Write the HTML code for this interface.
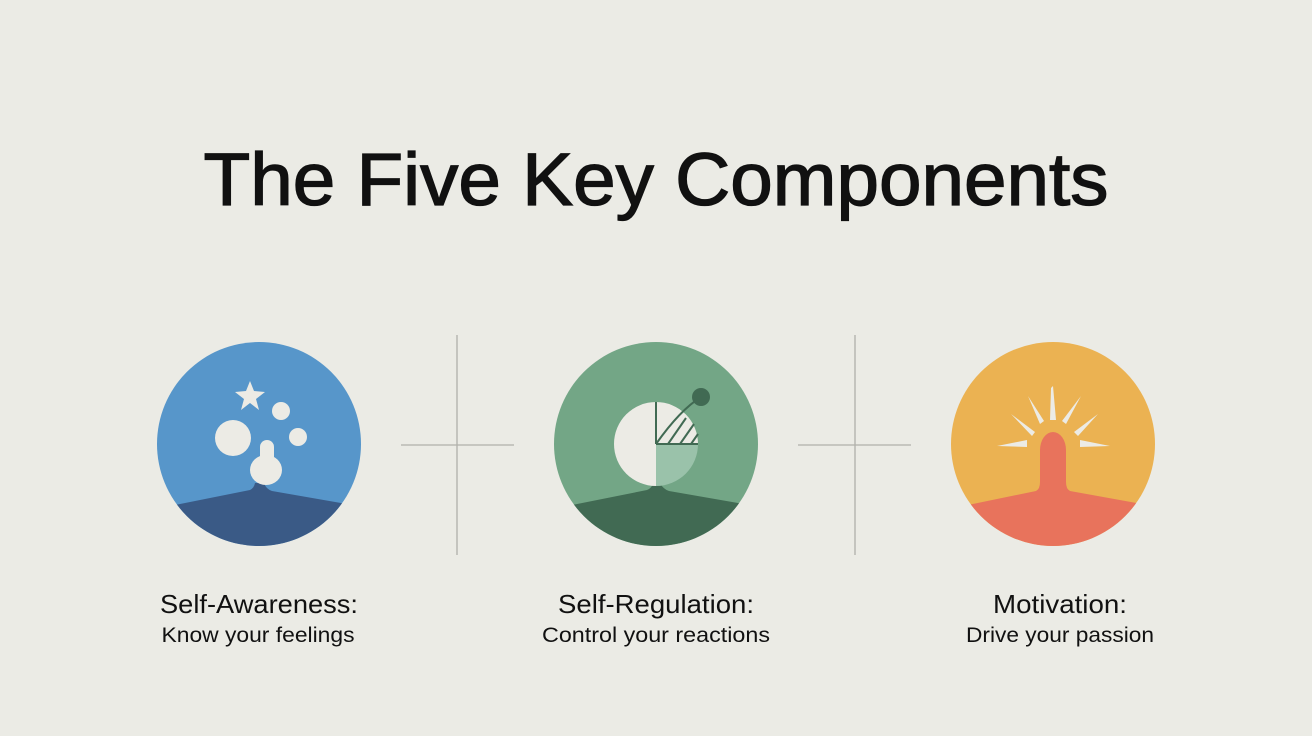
<!DOCTYPE html>
<html><head><style>
html,body{margin:0;padding:0;background:#ebebe5;}
svg{display:block}
</style></head><body>
<svg width="1312" height="736" viewBox="0 0 1312 736" xmlns="http://www.w3.org/2000/svg">
<rect width="1312" height="736" fill="#ebebe5"/>
<text x="656" y="205" text-anchor="middle" font-family="Liberation Sans, sans-serif" font-size="74" fill="#111" stroke="#111" stroke-width="1.3" textLength="905" lengthAdjust="spacingAndGlyphs">The Five Key Components</text>
<g stroke="#b0b0aa" stroke-width="1.3">
<line x1="457" y1="335" x2="457" y2="555"/><line x1="401" y1="445" x2="514" y2="445"/>
<line x1="855" y1="335" x2="855" y2="555"/><line x1="798" y1="445" x2="911" y2="445"/>
</g>
<defs>
<clipPath id="c1"><circle cx="259" cy="444" r="102"/></clipPath>
<clipPath id="c2"><circle cx="656" cy="444" r="102"/></clipPath>
<clipPath id="c3"><circle cx="1053" cy="444" r="102"/></clipPath>
</defs>
<circle cx="259" cy="444" r="102" fill="#5796ca"/>
<path clip-path="url(#c1)" d="M150 510 L250 490 Q254 488 255 483 L264 483 Q266 489 272 491 L370 508 L370 560 L150 560Z" fill="#3a5a86"/>
<polygon points="250,381 254,391 265,392 256,399 259,410 250,403 241,410 244,399 235,392 246,391" fill="#ecebe5"/>
<circle cx="281" cy="411" r="9" fill="#ecebe5"/>
<circle cx="298" cy="437" r="9" fill="#ecebe5"/>
<circle cx="233" cy="438" r="18" fill="#ecebe5"/>
<rect x="260" y="440" width="14" height="36" rx="7" fill="#ecebe5"/>
<ellipse cx="266" cy="470" rx="16" ry="15" fill="#ecebe5"/>
<circle cx="656" cy="444" r="102" fill="#73a686"/>
<path clip-path="url(#c2)" d="M547 510 L647 490 Q652 488 653 483 L660 483 Q663 489 669 491 L767 508 L767 560 L547 560Z" fill="#416a53"/>
<path d="M656 402 A42 42 0 0 0 656 486Z" fill="#ecebe5"/>
<path d="M656 444 L698 444 A42 42 0 0 1 656 486Z" fill="#9ac2aa"/>
<path d="M656 402 A42 42 0 0 1 698 444 L656 444Z" fill="#ecebe5"/>
<g stroke="#416a53" stroke-width="2" fill="none">
<line x1="656" y1="402" x2="656" y2="444"/><line x1="656" y1="444" x2="698" y2="444"/>
<path d="M656 444 Q680 410 701 397"/>
<line x1="668" y1="444" x2="686" y2="418"/><line x1="680" y1="444" x2="694" y2="424"/><line x1="691" y1="444" x2="698" y2="434"/>
</g>
<circle cx="701" cy="397" r="9" fill="#416a53"/>
<circle cx="1053" cy="444" r="102" fill="#ebb252"/>
<path clip-path="url(#c3)" d="M944 510 L1036 491 Q1040 489 1040 482 L1040 450 A13 18 0 0 1 1066 450 L1066 482 Q1066 489 1070 491 L1164 508 L1164 560 L944 560Z" fill="#e8735c"/>
<path d="M1043 435 A14 14 0 0 1 1063 435 L1058 428 A16 16 0 0 0 1048 428Z" fill="#ebb252"/>
<g fill="#ecebe5">
<polygon points="1051,388 1053,386 1056,420 1050,420"/>
<polygon points="1028,396 1044,421 1040,424"/>
<polygon points="1081,396 1066,424 1062,421"/>
<polygon points="1011,414 1035,432 1032,436"/>
<polygon points="1098,414 1078,436 1074,432"/>
<polygon points="997,446 1027,440 1027,447"/>
<polygon points="1110,446 1080,440 1080,447"/>
</g>
<g font-family="Liberation Sans, sans-serif" fill="#111" text-anchor="middle">
<text x="259" y="613" font-size="26" textLength="198" lengthAdjust="spacingAndGlyphs">Self-Awareness:</text>
<text x="258" y="642" font-size="21" textLength="193" lengthAdjust="spacingAndGlyphs">Know your feelings</text>
<text x="656" y="613" font-size="26" textLength="196" lengthAdjust="spacingAndGlyphs">Self-Regulation:</text>
<text x="656" y="642" font-size="21" textLength="228" lengthAdjust="spacingAndGlyphs">Control your reactions</text>
<text x="1060" y="613" font-size="26" textLength="134" lengthAdjust="spacingAndGlyphs">Motivation:</text>
<text x="1060" y="642" font-size="21" textLength="188" lengthAdjust="spacingAndGlyphs">Drive your passion</text>
</g>
</svg>
</body></html>
